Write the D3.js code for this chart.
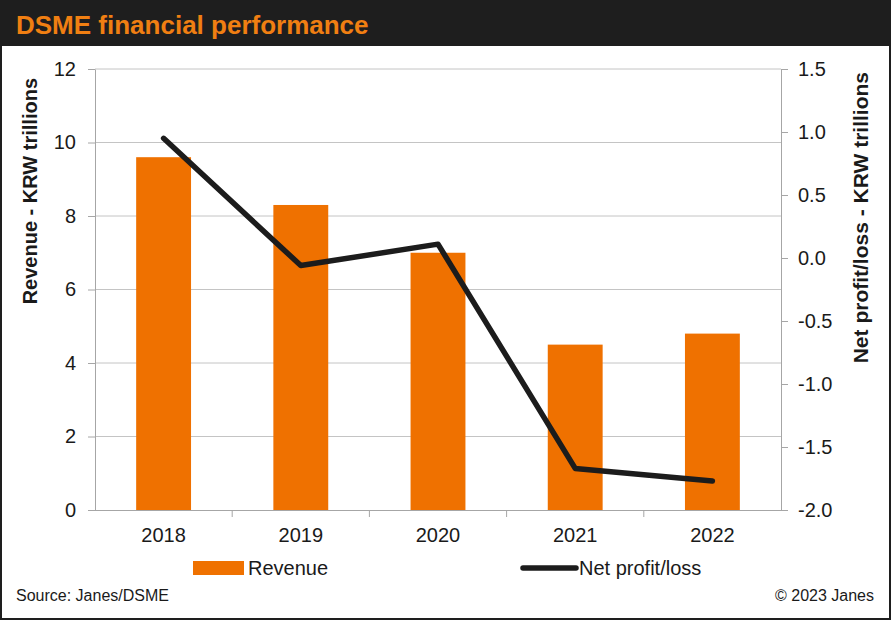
<!DOCTYPE html>
<html>
<head>
<meta charset="utf-8">
<script src="https://cdn.jsdelivr.net/npm/d3@7"></script>
<style>
  html, body { margin: 0; padding: 0; background: #fff; }
  svg { display: block; font-family: "Liberation Sans", Arial, sans-serif; }
</style>
</head>
<body>
<svg id="chart"></svg>
<script>
const years = ['2018', '2019', '2020', '2021', '2022'];
const revenue = [9.6, 8.3, 7.0, 4.5, 4.8];
const netProfit = [0.95, -0.06, 0.11, -1.67, -1.77];
const leftTicks = [0, 2, 4, 6, 8, 10, 12];
const rightTicks = [-2.0, -1.5, -1.0, -0.5, 0.0, 0.5, 1.0, 1.5];

const width = 891;
const height = 620;
const margin = { top: 69, right: 110, bottom: 110, left: 95 };
const plotRight = 781;
const plotBottom = 510;
const orange = '#ef7100';
const ink = '#1c1c1c';

const svg = d3.select('svg#chart')
  .attr('width', width)
  .attr('height', height);

// frame + header
svg.append('rect')
  .attr('x', 1).attr('y', 1)
  .attr('width', width - 2).attr('height', height - 2)
  .attr('fill', '#fff')
  .attr('stroke', '#1e1e1e')
  .attr('stroke-width', 2);

svg.append('rect')
  .attr('x', 0).attr('y', 0)
  .attr('width', width).attr('height', 46)
  .attr('fill', '#1e1e1e');

svg.append('text')
  .attr('x', 16).attr('y', 34)
  .attr('fill', '#f07f12')
  .attr('font-size', 26)
  .attr('font-weight', 'bold')
  .text('DSME financial performance');

const x = d3.scaleBand()
  .domain(years)
  .range([margin.left, plotRight])
  .paddingInner(0.6)
  .paddingOuter(0.3);

const yLeft = d3.scaleLinear()
  .domain([0, 12])
  .range([plotBottom, margin.top]);

const yRight = d3.scaleLinear()
  .domain([-2, 1.5])
  .range([plotBottom, margin.top]);

// gridlines
svg.append('g')
  .selectAll('line')
  .data(leftTicks.slice(1))
  .enter()
  .append('line')
    .attr('x1', margin.left)
    .attr('x2', plotRight)
    .attr('y1', d => yLeft(d))
    .attr('y2', d => yLeft(d))
    .attr('stroke', '#c4c4c4')
    .attr('stroke-width', 1);

// bars
svg.append('g')
  .selectAll('rect')
  .data(years)
  .enter()
  .append('rect')
    .attr('x', d => x(d))
    .attr('width', x.bandwidth())
    .attr('y', (d, i) => yLeft(revenue[i]))
    .attr('height', (d, i) => yLeft(0) - yLeft(revenue[i]))
    .attr('fill', orange);

// axes
const styleAxis = g => {
  g.select('.domain').attr('stroke', '#a6a6a6');
  g.selectAll('.tick line').attr('stroke', '#a6a6a6');
  g.selectAll('.tick text')
    .attr('fill', '#1a1a1a')
    .attr('font-size', 20)
    .attr('font-family', '"Liberation Sans", Arial, sans-serif');
};

svg.append('g')
  .attr('transform', `translate(${margin.left},0)`)
  .call(d3.axisLeft(yLeft).tickValues(leftTicks).tickSize(7).tickSizeOuter(0).tickPadding(12))
  .call(styleAxis);

svg.append('g')
  .attr('transform', `translate(${plotRight},0)`)
  .call(d3.axisRight(yRight).tickValues(rightTicks).tickSize(7).tickSizeOuter(0).tickPadding(10))
  .call(g => g.selectAll('.tick text').text(d => d3.format('.1f')(d).replace('−', '-')))
  .call(styleAxis);

// bottom axis with ticks at category boundaries
const bottom = svg.append('g');
bottom.append('line')
  .attr('x1', margin.left).attr('x2', plotRight)
  .attr('y1', plotBottom + 0.5).attr('y2', plotBottom + 0.5)
  .attr('stroke', '#a6a6a6');
bottom.selectAll('line.tick')
  .data(years.slice(1))
  .enter()
  .append('line')
    .attr('class', 'tick')
    .attr('x1', d => x(d) - x.step() * x.paddingInner() / 2)
    .attr('x2', d => x(d) - x.step() * x.paddingInner() / 2)
    .attr('y1', plotBottom).attr('y2', plotBottom + 7)
    .attr('stroke', '#a6a6a6');
bottom.selectAll('text')
  .data(years)
  .enter()
  .append('text')
    .attr('x', d => x(d) + x.bandwidth() / 2)
    .attr('y', 542)
    .attr('text-anchor', 'middle')
    .attr('font-size', 20)
    .attr('fill', '#1a1a1a')
    .text(d => d);

// net profit line
const line = d3.line()
  .x((d, i) => x(years[i]) + x.bandwidth() / 2)
  .y(d => yRight(d));

svg.append('path')
  .datum(netProfit)
  .attr('d', line)
  .attr('fill', 'none')
  .attr('stroke', ink)
  .attr('stroke-width', 5.5)
  .attr('stroke-linecap', 'round')
  .attr('stroke-linejoin', 'round');

// axis titles
svg.append('text')
  .attr('transform', 'translate(37,78) rotate(-90)')
  .attr('text-anchor', 'end')
  .attr('font-size', 20)
  .attr('font-weight', 'bold')
  .attr('fill', '#1a1a1a')
  .text('Revenue - KRW trillions');

svg.append('text')
  .attr('transform', 'translate(868,72) rotate(-90)')
  .attr('text-anchor', 'end')
  .attr('font-size', 21)
  .attr('font-weight', 'bold')
  .attr('fill', '#1a1a1a')
  .text('Net profit/loss - KRW trillions');

// legend
const legend = svg.append('g');
legend.append('rect')
  .attr('x', 193).attr('y', 561)
  .attr('width', 51).attr('height', 14)
  .attr('fill', orange);
legend.append('text')
  .attr('x', 248).attr('y', 575)
  .attr('font-size', 20)
  .attr('fill', '#1a1a1a')
  .text('Revenue');
legend.append('line')
  .attr('x1', 523).attr('x2', 576)
  .attr('y1', 568).attr('y2', 568)
  .attr('stroke', ink)
  .attr('stroke-width', 5.5)
  .attr('stroke-linecap', 'round');
legend.append('text')
  .attr('x', 579).attr('y', 575)
  .attr('font-size', 20)
  .attr('fill', '#1a1a1a')
  .text('Net profit/loss');

// footer
svg.append('text')
  .attr('x', 16).attr('y', 601)
  .attr('font-size', 16)
  .attr('fill', '#1a1a1a')
  .text('Source: Janes/DSME');

svg.append('text')
  .attr('x', 874).attr('y', 601)
  .attr('text-anchor', 'end')
  .attr('font-size', 16)
  .attr('fill', '#1a1a1a')
  .text('© 2023 Janes');
</script>
</body>
</html>
